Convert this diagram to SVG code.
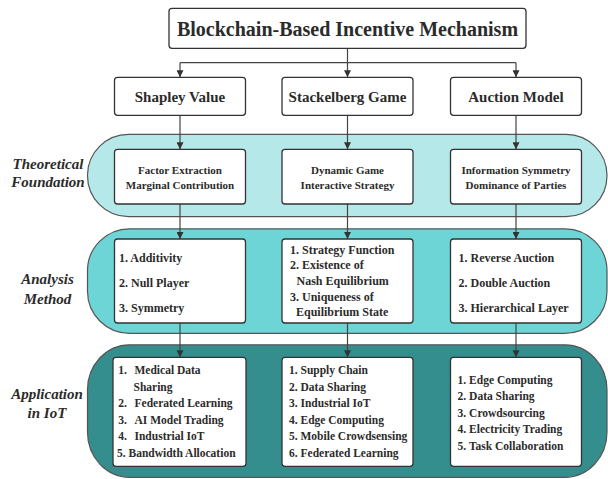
<svg xmlns="http://www.w3.org/2000/svg" width="608" height="479" viewBox="0 0 608 479">
  <defs>
    <marker id="arr" viewBox="0 0 10 10" refX="10" refY="5" markerWidth="7" markerHeight="7" markerUnits="userSpaceOnUse" orient="auto">
      <path d="M0,0 L10,5 L0,10 z" fill="#333"/>
    </marker>
    <style>
      .box { fill: #ffffff; stroke: #333333; stroke-width: 1.3; }
      .band { stroke: #555555; stroke-width: 1.2; }
      .t { font-family: "Liberation Serif", "Times New Roman", serif; font-weight: bold; fill: #2b2b2b; }
      .lbl { font-family: "Liberation Serif", "Times New Roman", serif; font-weight: bold; font-style: italic; font-size: 15px; fill: #2b2b2b; text-anchor: middle; }
      .c { text-anchor: middle; }
      .edge { stroke: #444444; stroke-width: 1.2; fill: none; }
    </style>
  </defs>
  <rect width="608" height="479" fill="#ffffff"/>

  <!-- bands -->
  <g id="band-theory">
    <rect class="band" x="87.5" y="134.3" width="519.5" height="82.4" rx="41" ry="41" fill="#b4e8e9"/>
    <text class="lbl" x="48" y="168.5">Theoretical</text>
    <text class="lbl" x="48" y="187">Foundation</text>
  </g>
  <g id="band-analysis">
    <rect class="band" x="87.5" y="228.8" width="519.5" height="104.5" rx="42" ry="42" fill="#6ed5d7"/>
    <text class="lbl" x="47.5" y="284">Analysis</text>
    <text class="lbl" x="47.5" y="303.5">Method</text>
  </g>
  <g id="band-app">
    <rect class="band" x="87.5" y="344.8" width="519.5" height="132.5" rx="42" ry="45" fill="#358e8e"/>
    <text class="lbl" x="47" y="399">Application</text>
    <text class="lbl" x="47" y="418">in IoT</text>
  </g>

  <!-- connectors -->
  <g id="connectors">
    <path class="edge" d="M347.5,48.3 V62.7 M180,62.7 H516"/>
    <path class="edge" d="M180,62.7 V77.3" marker-end="url(#arr)"/>
    <path class="edge" d="M347.5,62.7 V77.3" marker-end="url(#arr)"/>
    <path class="edge" d="M516,62.7 V77.3" marker-end="url(#arr)"/>
    <path class="edge" d="M180,115.3 V149.3" marker-end="url(#arr)"/>
    <path class="edge" d="M347.5,115.3 V149.3" marker-end="url(#arr)"/>
    <path class="edge" d="M516,115.3 V149.3" marker-end="url(#arr)"/>
    <path class="edge" d="M180,204 V239" marker-end="url(#arr)"/>
    <path class="edge" d="M347.5,204 V239" marker-end="url(#arr)"/>
    <path class="edge" d="M516,204 V239" marker-end="url(#arr)"/>
    <path class="edge" d="M180,323 V357.3" marker-end="url(#arr)"/>
    <path class="edge" d="M347.5,323 V357.3" marker-end="url(#arr)"/>
    <path class="edge" d="M516,323 V357.3" marker-end="url(#arr)"/>
  </g>

  <!-- title -->
  <g id="title">
    <rect class="box" x="169" y="8.3" width="357" height="40" rx="3"/>
    <text class="t c" x="347.5" y="36" font-size="20">Blockchain-Based Incentive Mechanism</text>
  </g>

  <!-- level 2 -->
  <g id="shapley">
    <rect class="box" x="114.5" y="77.3" width="131" height="38" rx="3"/>
    <text class="t c" x="180" y="102" font-size="15">Shapley Value</text>
  </g>
  <g id="stackelberg">
    <rect class="box" x="282" y="77.3" width="131" height="38" rx="3"/>
    <text class="t c" x="347.5" y="102" font-size="15">Stackelberg Game</text>
  </g>
  <g id="auction">
    <rect class="box" x="450.5" y="77.3" width="131" height="38" rx="3"/>
    <text class="t c" x="516" y="102" font-size="15">Auction Model</text>
  </g>

  <!-- theoretical foundation -->
  <g id="tf-shapley">
    <rect class="box" x="114.5" y="149.3" width="131" height="54.7" rx="3"/>
    <text class="t c" x="180" y="174" font-size="11">Factor Extraction</text>
    <text class="t c" x="180" y="188.5" font-size="11">Marginal Contribution</text>
  </g>
  <g id="tf-stackelberg">
    <rect class="box" x="282" y="149.3" width="131" height="54.7" rx="3"/>
    <text class="t c" x="347.5" y="174" font-size="11">Dynamic Game</text>
    <text class="t c" x="347.5" y="188.5" font-size="11">Interactive Strategy</text>
  </g>
  <g id="tf-auction">
    <rect class="box" x="450.5" y="149.3" width="131" height="54.7" rx="3"/>
    <text class="t c" x="516" y="174" font-size="11">Information Symmetry</text>
    <text class="t c" x="516" y="188.5" font-size="11">Dominance of Parties</text>
  </g>

  <!-- analysis method -->
  <g id="am-shapley">
    <rect class="box" x="114.5" y="239" width="131" height="84" rx="3"/>
    <text class="t" x="119" y="261.5" font-size="12">1. Additivity</text>
    <text class="t" x="119" y="286.5" font-size="12">2. Null Player</text>
    <text class="t" x="119" y="311.5" font-size="12">3. Symmetry</text>
  </g>
  <g id="am-stackelberg">
    <rect class="box" x="282" y="239" width="131" height="84" rx="3"/>
    <text class="t" x="290" y="253.5" font-size="12">1. Strategy Function</text>
    <text class="t" x="290" y="269.3" font-size="12">2. Existence of</text>
    <text class="t" x="296.5" y="285" font-size="12">Nash Equilibrium</text>
    <text class="t" x="290" y="300.5" font-size="12">3. Uniqueness of</text>
    <text class="t" x="296" y="316" font-size="12">Equilibrium State</text>
  </g>
  <g id="am-auction">
    <rect class="box" x="450.5" y="239" width="131" height="84" rx="3"/>
    <text class="t" x="458.5" y="261.5" font-size="12">1. Reverse Auction</text>
    <text class="t" x="458.5" y="286.5" font-size="12">2. Double Auction</text>
    <text class="t" x="458.5" y="311.5" font-size="12">3. Hierarchical Layer</text>
  </g>

  <!-- application in IoT -->
  <g id="app-shapley">
    <rect class="box" x="113" y="357.3" width="133" height="109" rx="3"/>
    <text class="t" y="374.3" font-size="11.5"><tspan x="118.3">1.</tspan><tspan x="134.5">Medical Data</tspan></text>
    <text class="t" x="133.5" y="390.7" font-size="11.5">Sharing</text>
    <text class="t" y="407.1" font-size="11.5"><tspan x="118.3">2.</tspan><tspan x="134.5">Federated Learning</tspan></text>
    <text class="t" y="423.5" font-size="11.5"><tspan x="118.3">3.</tspan><tspan x="134.5">AI Model Trading</tspan></text>
    <text class="t" y="439.9" font-size="11.5"><tspan x="118.3">4.</tspan><tspan x="134.5">Industrial IoT</tspan></text>
    <text class="t" x="117" y="456.5" font-size="11.5">5. Bandwidth Allocation</text>
  </g>
  <g id="app-stackelberg">
    <rect class="box" x="282" y="357.3" width="131" height="109" rx="3"/>
    <text class="t" x="289" y="374.3" font-size="11.5">1. Supply Chain</text>
    <text class="t" x="289" y="390.8" font-size="11.5">2. Data Sharing</text>
    <text class="t" x="289" y="407.3" font-size="11.5">3. Industrial IoT</text>
    <text class="t" x="289" y="423.8" font-size="11.5">4. Edge Computing</text>
    <text class="t" x="289" y="440.3" font-size="11.5">5. Mobile Crowdsensing</text>
    <text class="t" x="289" y="456.8" font-size="11.5">6. Federated Learning</text>
  </g>
  <g id="app-auction">
    <rect class="box" x="450.5" y="357.3" width="131" height="109" rx="3"/>
    <text class="t" x="457.6" y="383.5" font-size="11.5">1. Edge Computing</text>
    <text class="t" x="457.6" y="400" font-size="11.5">2. Data Sharing</text>
    <text class="t" x="457.6" y="416.5" font-size="11.5">3. Crowdsourcing</text>
    <text class="t" x="457.6" y="433" font-size="11.5">4. Electricity Trading</text>
    <text class="t" x="457.6" y="449.5" font-size="11.5">5. Task Collaboration</text>
  </g>
</svg>
